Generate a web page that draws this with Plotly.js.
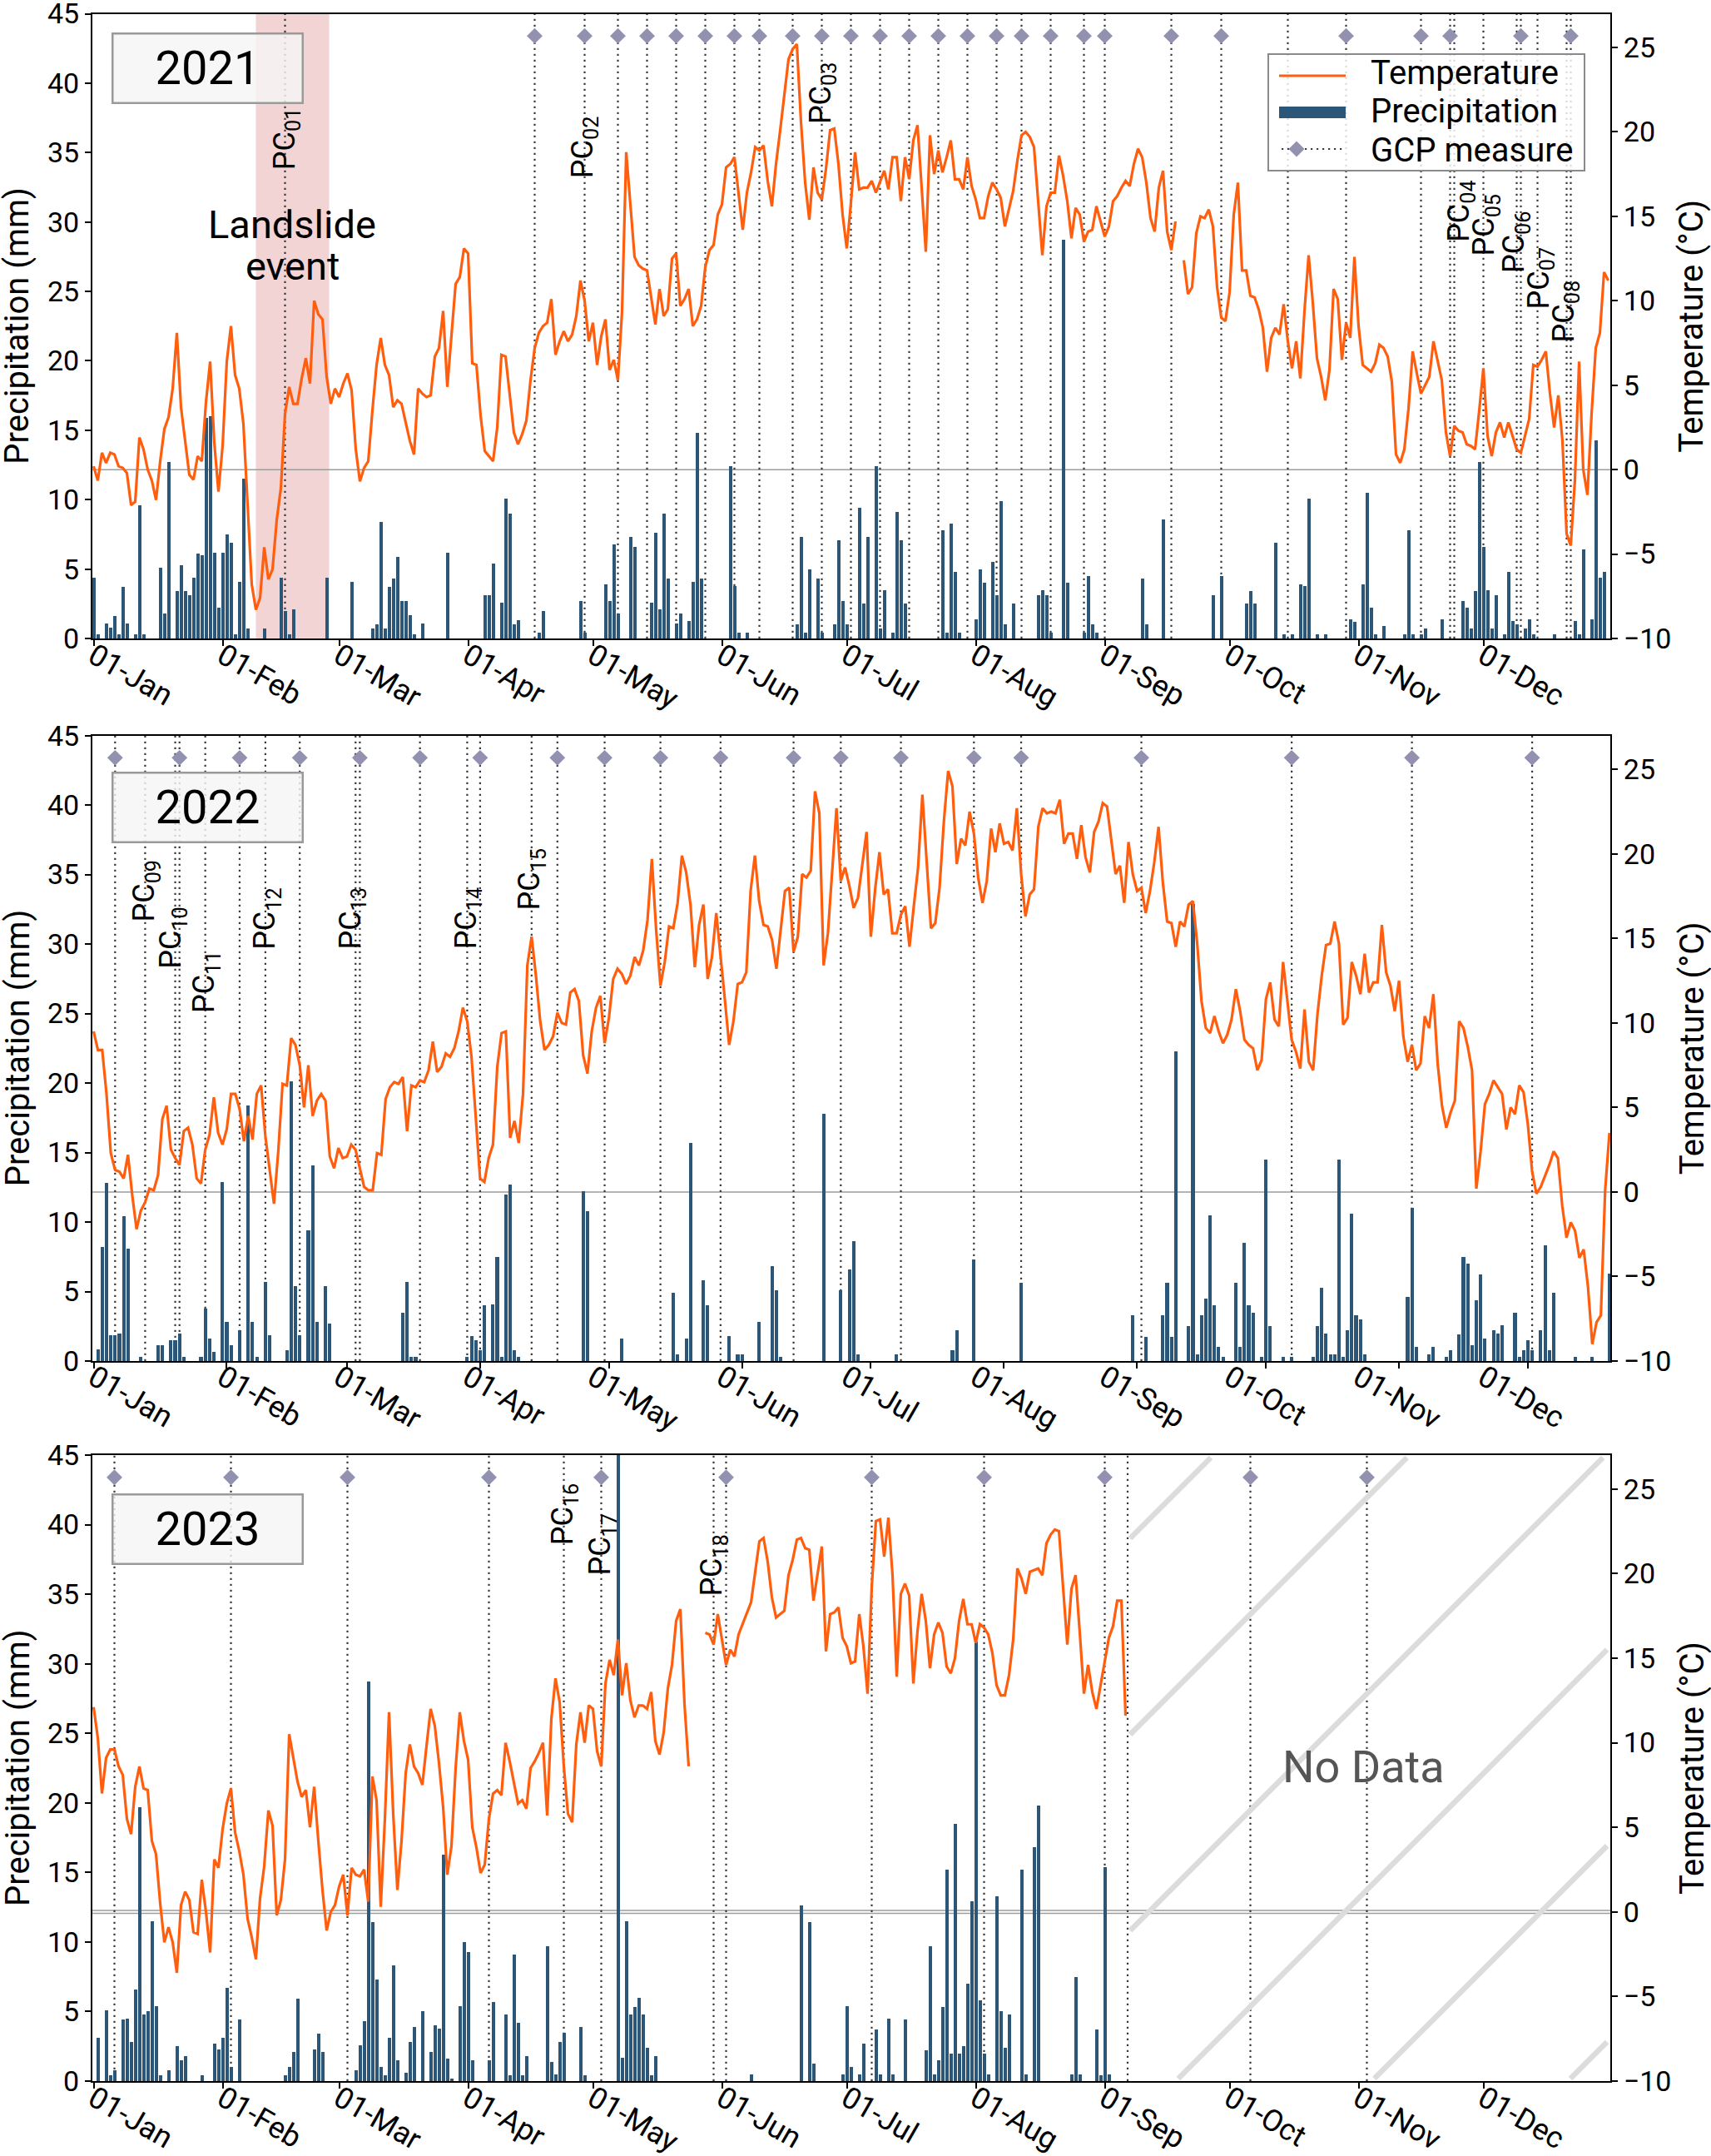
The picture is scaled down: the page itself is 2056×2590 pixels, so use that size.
<!DOCTYPE html>
<html><head><meta charset="utf-8">
<script src="https://cdn.plot.ly/plotly-3.0.1.min.js"></script>
<style>html,body{margin:0;padding:0;background:#fff}</style>
</head><body>
<div id="chart" style="width:2056px;height:2590px"></div>
<script>
// ---------------- DATA ----------------
// day index = days since 1 January of the year (0 = 01-Jan)
const years = [2021, 2022, 2023];

// Daily mean temperature (°C), starting 01-Jan; null = missing
const temp2021 = [
0.2,-0.65,1.0,0.4,1.0,0.9,0.2,0.1,-0.2,-2.1,
-1.9,1.9,1.2,0.0,-0.65,-1.8,0.5,2.4,3.1,4.8,
8.1,3.7,1.7,-0.3,-0.6,0.8,0.5,4.0,6.4,1.6,
-1.3,1.4,6.4,8.5,5.6,4.8,2.7,-2.0,-6.8,-8.3,
-7.6,-4.6,-6.5,-5.9,-3.0,-1.1,3.3,4.9,3.9,3.9,
5.4,6.6,5.1,10.0,9.2,8.9,5.5,3.9,4.8,4.3,
5.1,5.7,4.7,1.2,-0.7,0.1,0.5,3.5,6.2,7.8,
6.2,5.6,3.7,4.1,3.9,2.8,1.7,0.9,4.8,4.5,
4.3,4.4,6.7,7.2,9.4,4.9,8.1,11.0,11.4,13.1,
12.8,6.3,6.2,3.2,1.1,0.8,0.5,2.5,6.8,6.7,
4.5,2.2,1.5,2.1,2.9,5.3,7.2,8.1,8.5,8.7,
10.1,6.8,7.6,8.2,7.6,8.0,9.1,11.2,10.0,7.6,
8.7,6.2,7.9,8.9,5.9,6.5,5.3,9.4,18.8,15.9,
12.6,12.1,11.9,11.8,10.2,8.6,10.7,9.1,9.5,12.5,
12.8,9.7,10.1,10.7,8.5,8.9,9.7,12.0,13.0,13.3,
15.1,15.7,17.9,18.1,18.5,16.4,14.2,16.4,17.6,19.1,
18.9,19.2,17.1,15.6,18.1,20.1,22.1,24.3,24.9,25.2,
20.6,17.0,14.8,17.9,16.4,16.0,17.8,20.1,20.2,18.1,
15.1,13.1,15.8,18.8,16.6,16.7,16.7,17.1,16.4,17.0,
17.7,16.6,18.5,18.5,15.9,18.5,17.2,19.5,20.4,16.7,
12.9,19.8,17.5,18.9,17.6,18.5,19.5,17.2,17.2,16.6,
18.5,16.8,16.0,14.9,14.9,16.2,17.0,16.6,16.1,14.4,
15.4,16.5,18.3,19.8,20.0,19.7,19.1,16.1,12.7,15.6,
16.4,16.4,18.6,17.4,15.9,13.7,15.5,15.1,13.5,14.1,
14.2,15.6,14.7,13.8,14.4,15.9,16.2,16.7,17.1,16.8,
18.1,19.0,18.5,17.0,14.9,14.1,16.7,17.7,14.1,13.0,
14.7,null,12.4,10.4,10.8,14.0,15.0,14.9,15.4,14.4,
10.8,9.0,8.8,10.5,15.1,17.0,11.8,11.8,10.3,10.2,
9.5,8.4,5.8,7.8,8.4,8.0,9.8,7.6,6.0,7.6,
5.4,9.4,12.7,9.9,6.6,5.5,4.1,5.9,10.7,10.1,
6.5,8.7,7.8,12.6,8.5,6.2,6.0,5.8,6.3,7.4,
7.2,6.7,5.2,0.9,0.4,1.2,3.6,7.0,5.7,4.5,
5.0,5.5,7.6,6.4,5.3,2.2,0.8,2.6,2.3,2.2,
1.5,1.4,1.2,3.5,6.0,2.0,0.8,2.2,2.8,1.9,
2.8,2.0,1.2,1.0,2.0,3.0,6.2,6.1,6.5,7.0,
4.5,2.5,4.4,1.7,-3.8,-4.5,-0.6,6.4,0.0,-1.5,
3.3,7.2,8.1,11.7,11.2];

const temp2022 = [
9.5,8.4,8.4,5.8,2.3,1.3,1.2,0.8,2.2,-0.2,
-2.2,-1.1,-0.6,0.2,0.1,1.0,4.3,5.1,2.5,2.0,
1.6,3.6,3.8,2.8,0.8,0.5,2.5,3.4,5.6,3.5,
2.8,3.7,5.8,5.8,4.9,3.0,4.5,3.1,5.8,6.3,
3.3,1.2,-0.7,2.4,6.4,6.3,9.1,8.7,7.5,5.0,
7.5,4.5,5.4,5.8,5.4,2.1,1.4,2.6,2.0,2.1,
2.8,2.5,1.4,0.3,0.1,0.1,2.3,2.2,5.5,6.2,
6.5,6.4,6.8,3.6,6.3,6.2,6.6,6.5,7.2,8.9,
7.1,7.4,8.2,8.0,8.5,9.5,10.9,10.1,8.0,4.5,
0.8,0.6,2.0,2.8,7.4,9.4,9.5,3.2,4.2,2.9,
5.8,13.4,15.1,12.8,10.1,8.4,8.7,9.2,10.6,10.0,
9.9,11.8,12.0,11.3,8.1,7.0,9.5,10.9,11.6,8.8,
10.3,12.6,13.2,12.9,12.3,12.8,13.9,13.4,14.3,16.1,
19.7,15.5,12.2,13.6,15.7,15.6,17.1,19.9,18.9,17.0,
13.3,15.8,17.0,12.6,13.9,16.5,14.1,11.4,8.7,10.1,
12.3,12.4,13.0,17.8,19.9,17.2,15.8,15.7,14.9,13.2,
15.5,17.8,18.0,14.2,15.1,18.8,18.6,19.0,23.7,22.4,
13.4,15.3,19.0,22.7,18.4,19.2,18.1,16.8,17.4,19.4,
21.3,15.1,17.9,20.1,17.6,17.9,15.3,15.3,16.4,16.9,
14.5,16.9,19.2,23.5,19.6,15.6,15.9,18.0,21.9,24.9,
24.0,19.4,20.9,20.5,22.5,21.2,18.6,17.1,18.4,21.5,
20.1,21.8,20.6,20.7,20.2,22.7,18.8,16.3,17.6,17.9,
21.6,22.7,22.4,22.5,22.4,23.2,20.6,21.2,21.2,19.7,
21.7,19.8,18.9,21.3,21.9,23.0,22.8,20.9,18.8,19.3,
17.1,20.7,18.8,17.8,18.0,16.5,17.8,19.5,21.6,18.3,
16.0,15.9,14.5,16.0,15.7,17.0,17.2,14.7,11.3,9.7,
9.4,10.4,9.5,8.8,9.3,10.2,12.0,10.7,9.0,8.7,
8.5,7.2,7.8,11.4,12.4,10.2,9.8,13.6,11.4,9.0,
8.3,7.3,10.8,7.7,7.2,10.5,12.8,14.6,14.7,16.0,
14.7,9.9,10.3,13.6,12.8,11.7,14.1,11.8,12.4,12.4,
15.8,13.0,12.2,10.7,12.5,9.2,7.7,8.7,7.2,7.6,
10.4,9.7,11.7,7.6,5.1,3.8,4.7,5.4,10.1,9.7,
8.6,7.2,0.2,2.4,5.2,5.8,6.6,6.2,5.8,3.7,
5.0,4.6,6.3,5.9,4.0,1.2,-0.1,0.3,0.9,1.6,
2.4,2.0,-0.8,-2.7,-1.8,-2.3,-3.9,-3.4,-5.6,-9.0,
-7.7,-7.3,0.1,3.5];

const temp2023 = [
12.1,10.3,7.0,9.1,9.6,9.6,8.6,8.1,5.5,4.6,
7.4,8.6,7.3,7.2,4.2,3.4,0.5,-1.8,-0.9,-1.8,
-3.6,0.4,1.2,0.7,-1.2,-1.3,1.9,0.0,-2.4,3.1,
2.6,4.9,6.4,7.3,4.7,3.6,2.2,-0.4,-1.5,-2.8,
0.8,2.7,6.0,5.1,-0.2,0.7,3.1,10.5,9.1,7.7,
6.8,7.2,5.0,7.4,4.2,1.3,-1.1,0.0,0.4,1.5,
2.2,-0.2,2.6,2.2,2.1,2.5,0.6,8.0,6.6,0.3,
5.5,11.8,5.8,1.3,4.2,8.2,9.9,8.6,8.2,7.5,
9.8,12.0,11.0,8.8,6.2,2.2,3.9,8.5,11.8,10.1,
9.0,5.0,3.8,2.3,2.8,5.5,7.0,7.2,6.9,10.0,
8.9,7.7,6.4,6.6,6.1,8.5,8.9,9.4,10.0,5.7,
11.4,13.8,12.4,8.6,5.8,5.3,9.9,11.8,10.0,12.2,
12.0,9.5,8.6,13.5,14.9,14.0,16.1,12.8,14.7,12.5,
11.5,12.2,12.2,12.0,13.0,10.1,9.3,10.6,13.2,14.6,
17.2,17.9,12.3,8.6,null,null,null,16.5,16.4,15.8,
17.6,16.1,14.6,15.5,15.1,16.4,17.0,17.7,18.3,20.1,
21.9,22.1,20.7,18.6,17.4,17.6,17.8,19.9,20.8,22.0,
22.1,21.5,21.4,18.4,20.0,21.6,15.4,17.6,17.7,18.0,
16.2,15.7,14.7,14.8,17.6,15.7,12.9,19.2,23.1,23.2,
21.0,23.3,19.9,13.9,18.8,19.4,18.7,13.5,16.6,18.8,
17.2,14.4,16.4,17.1,16.5,14.5,14.1,15.0,17.2,18.5,
17.0,17.0,15.9,17.0,16.8,16.4,15.3,13.4,12.8,12.8,
14.0,16.1,20.3,19.7,18.8,20.1,20.2,20.3,19.9,21.8,
22.3,22.6,22.5,19.2,15.8,19.1,19.9,16.5,12.9,14.6,
13.0,12.0,13.4,14.9,16.2,16.9,18.4,18.4,11.6];

// Daily precipitation (mm): day index and amount
const precipDay2021 = [0,1,3,4,5,6,7,8,10,11,12,16,17,18,20,21,22,23,24,25,26,27,28,29,30,31,32,33,34,35,36,37,41,45,46,47,48,56,62,67,68,69,70,71,72,73,74,75,76,77,79,85,94,95,96,98,99,100,101,102,107,108,117,118,123,124,125,126,129,130,134,135,136,137,138,140,141,143,144,145,146,153,154,155,157,169,170,171,172,174,175,178,179,180,181,184,185,186,188,189,190,192,193,194,195,204,205,206,207,208,212,213,214,216,217,218,219,221,227,228,229,230,233,234,238,239,240,241,252,253,257,269,271,277,278,279,284,286,288,290,291,292,294,296,302,303,305,306,307,308,310,315,316,317,319,320,324,329,330,331,332,333,334,335,336,337,339,340,341,342,344,345,346,351,356,357,358,360,361,362,363];
const precipMm2021 = [4.4,0.3,1.1,0.8,1.6,0.3,3.7,1.1,0.3,9.6,0.3,5.1,1.8,12.7,3.4,5.3,3.4,3.1,4.4,6.1,6.0,15.9,16.0,6.2,2.2,6.2,7.5,6.9,0.3,4.1,11.5,0.7,0.7,4.4,2.0,0.3,2.1,4.4,4.1,0.7,1.0,8.4,0.7,3.7,4.3,5.9,2.7,2.7,1.7,0.3,1.1,6.2,3.1,3.1,5.4,2.6,10.1,9.0,1.0,1.3,0.4,2.0,2.7,0.4,3.9,2.7,6.8,1.8,7.3,6.6,2.6,7.6,2.1,9.0,4.3,1.1,1.8,1.25,4.1,14.8,4.3,12.4,3.8,0.4,0.4,1.0,7.3,0.4,5.0,4.3,0.4,1.0,7.1,2.7,1.0,9.4,2.5,7.3,12.4,0.7,3.5,0.4,9.1,7.1,2.5,7.8,0.4,8.3,4.8,0.4,1.4,5.0,4.0,5.5,3.1,9.9,1.0,2.5,3.1,3.5,3.1,0.4,28.7,4.0,0.4,4.5,1.0,0.4,4.3,1.0,8.6,3.1,4.5,2.5,3.4,2.5,6.9,0.3,0.3,3.9,3.8,10.1,0.3,0.3,1.4,1.2,3.9,10.5,2.2,0.3,0.9,0.3,7.8,0.3,0.3,0.7,1.4,2.7,2.2,0.7,3.4,12.7,6.6,3.5,0.7,3.1,0.3,4.8,1.25,1.0,0.7,1.4,0.3,0.3,1.25,0.3,6.4,1.4,14.3,4.4,4.8];

const precipDay2022 = [1,2,3,4,5,6,7,8,11,15,16,18,19,20,21,25,26,27,28,30,31,32,34,36,37,38,40,41,45,46,47,48,50,51,52,54,55,72,73,74,75,87,88,89,90,91,93,94,95,96,97,98,99,114,115,123,135,136,138,139,142,143,148,150,151,155,158,159,160,170,174,176,177,178,187,200,201,205,216,242,245,249,250,251,252,255,256,257,258,259,260,261,262,263,266,267,268,269,270,272,273,274,277,279,284,285,286,287,288,289,290,291,292,293,294,295,296,306,307,308,311,312,315,316,318,319,320,321,322,323,324,326,327,328,331,332,333,334,335,337,338,339,340,345,349,353];
const precipMm2022 = [0.85,8.2,12.8,1.85,1.85,2.0,10.4,8.1,0.3,1.15,1.15,1.5,1.5,2.0,0.3,0.3,3.8,1.6,0.65,12.9,2.8,1.15,2.2,18.4,2.8,0.3,5.7,1.85,0.75,20.1,5.4,1.85,9.4,14.1,2.8,5.4,2.7,3.5,5.7,0.3,0.3,0.3,1.8,1.5,0.75,4.0,4.1,7.5,0.3,12.0,12.7,0.75,0.3,12.2,10.8,1.6,4.9,0.5,1.6,15.7,5.8,4.0,1.8,0.5,0.5,2.8,6.8,5.1,0.3,17.8,5.1,6.6,8.6,0.5,0.5,0.75,2.2,7.3,5.6,3.3,1.75,3.3,5.6,1.75,22.3,2.5,32.9,0.5,3.3,4.5,10.5,4.0,1.0,0.3,5.6,1.0,8.5,4.0,3.5,0.3,14.5,2.5,0.3,0.3,0.3,2.5,5.3,2.0,0.5,0.5,14.5,0.3,2.2,10.6,3.3,3.0,0.5,4.6,11.0,1.0,0.5,1.0,0.3,0.75,1.9,7.5,7.0,1.15,4.4,6.2,1.6,2.2,2.0,2.6,3.45,0.3,0.75,1.5,0.75,2.2,8.3,0.75,4.9,0.3,0.3,6.3];

const precipDay2023 = [1,3,4,5,7,8,9,10,11,12,13,14,15,16,18,20,21,22,26,29,30,31,32,33,35,46,47,48,49,53,54,55,63,64,65,66,67,68,69,70,71,72,73,75,76,77,79,81,82,83,84,85,86,88,89,90,91,95,96,99,100,101,102,103,104,109,110,111,112,113,117,118,126,127,128,129,130,131,132,133,134,135,158,170,172,173,180,181,182,184,185,188,189,191,192,195,200,201,202,203,204,205,206,207,208,209,210,211,212,213,214,215,217,218,219,220,223,224,226,227,235,236,237,241,242,243,244];
const precipMm2023 = [3.1,5.1,0.4,0.75,4.4,4.5,2.8,6.6,19.7,4.8,5.0,11.5,5.4,0.4,0.75,2.5,1.5,1.8,0.4,2.7,2.3,3.1,6.7,1.0,4.4,0.4,1.0,2.1,5.9,2.3,3.4,2.1,0.75,2.6,4.3,28.7,11.4,7.3,1.0,0.4,3.1,8.3,1.5,0.6,2.8,3.9,5.0,2.1,4.0,3.8,16.3,1.6,0.2,5.4,10.0,9.3,1.5,1.5,5.7,4.8,0.4,9.1,4.2,0.4,1.8,9.7,1.4,0.5,2.8,3.5,3.9,0.4,48,1.7,11.5,4.8,5.3,6.0,4.8,2.4,0.4,1.8,0.5,12.6,11.4,1.25,0.5,5.4,1.0,0.5,2.7,3.7,0.5,4.5,0.5,4.4,2.2,9.7,0.5,1.5,5.3,15.2,2.0,18.5,2.0,2.5,7.0,12.9,31.6,5.8,2.0,0.5,13.3,5.0,2.4,4.8,15.2,0.5,16.8,19.8,0.5,7.5,0.5,3.7,0.4,15.4,0.5];

// GCP measurement days (diamond + dotted line)
const gcpDay2021 = [106,118,126,133,140,147,154,160,168,175,182,189,196,203,210,217,223,230,238,243,259,271,301,319,326,343,355];
const gcpDay2022 = [5,20,34,48,62,76,90,108,119,132,146,163,174,188,205,216,244,279,307,335];
const gcpDay2023 = [5,33,61,95,122,152,187,214,243,278,306];
// other dotted marker lines (no diamond)
const lineDay2021 = [46,287,327,334,342,347,354];
const lineDay2022 = [12,19,26,40,61,87,102];
const lineDay2023 = [113,149,248.5];

// PC labels: name (subscript), day
const pcName2021 = ['01','02','03','04','05','06','07','08'];
const pcDay2021  = [46.4,118,175.2,328.6,334.6,341.7,347.7,353.7];
const pcName2022 = ['09','10','11','12','13','14','15'];
const pcDay2022  = [12.2,18.5,26.2,40.3,60.2,87.1,102];
const pcName2023 = ['16','17','18'];
const pcDay2023  = [113.1,122.2,149];

// landslide event period (2021) and no-data period start (2023), day index
const landslideDays2021 = [39.0, 56.6];
const noDataStart2023 = 248.5;

// ---------------- LAYOUT / STYLE ----------------
const W = 2056, H = 2590, ML = 111, MR = 121, MT = 16, MB = 90;
const PW = W - ML - MR, PH = H - MT - MB;
const FONT = 'Roboto, "Open Sans", Arial, sans-serif';
const BAR_COLOR = '#2c5677', TEMP_COLOR = '#ff5e0e', GCP_COLOR = '#9292b0', DOT_COLOR = '#3a3a3a';
const GCP_LEVEL = 43.4;          // precipitation-axis height of the diamonds
const DAY_MS = 86400000;

// pixel geometry of each panel [top, bottom], x range in day index
const panelPx = [[16.5, 767], [883.6, 1635], [1748, 2500]];
const xRangeDays = [[-0.3, 364.5], [-0.29, 353.2], [-0.3, 364.5]];
// the 2022 panel's month labels sit where the full-year panels put them
const labelRangeDays = [-0.3, 364.5];
// PC label bottom level (precipitation units)
const pcLevel = [[33.6,33.0,36.9,28.4,27.4,26.2,23.6,21.2],[31.5,28.1,24.9,29.5,29.5,29.5,32.3],[38.4,36.2,34.7]];
const yearBoxPx = [[249.75, 82], [249.75, 969.5], [249.75, 1836.5]];

function dayDate(year, d) {
  return new Date(Date.UTC(year, 0, 1) + d * DAY_MS).toISOString().replace('T', ' ').slice(0, 19);
}
const px2x = px => (px - ML) / PW;
const py2y = py => (H - MB - py) / PH;

const panels = [
  {year: 2021, temp: temp2021, pd: precipDay2021, pm: precipMm2021, gcp: gcpDay2021, lines: lineDay2021, pcN: pcName2021, pcD: pcDay2021},
  {year: 2022, temp: temp2022, pd: precipDay2022, pm: precipMm2022, gcp: gcpDay2022, lines: lineDay2022, pcN: pcName2022, pcD: pcDay2022},
  {year: 2023, temp: temp2023, pd: precipDay2023, pm: precipMm2023, gcp: gcpDay2023, lines: lineDay2023, pcN: pcName2023, pcD: pcDay2023}
];

const traces = [];
const shapes = [];
const annotations = [];
const layout = {
  width: W, height: H,
  margin: {l: ML, r: MR, t: MT, b: MB},
  paper_bgcolor: '#ffffff', plot_bgcolor: '#ffffff',
  showlegend: false,
  font: {family: FONT, color: '#000', size: 34},
  bargap: 0
};

const axisStyle = {
  showline: true, linecolor: '#000', linewidth: 2,
  ticks: 'outside', ticklen: 7, tickwidth: 2, tickcolor: '#000',
  showgrid: false, zeroline: false, ticklabeloverflow: 'allow',
  tickfont: {family: FONT, size: 34, color: '#000'}
};
const xTickFont = {family: FONT, size: 36, color: '#000'};
const X_LABEL_STANDOFF = -23;

panels.forEach((p, i) => {
  const xName = i === 0 ? 'xaxis' : 'xaxis' + (i + 1);
  const xRef = i === 0 ? 'x' : 'x' + (i + 1);
  const ypNum = 2 * i + 1, ytNum = 2 * i + 2;
  const ypName = ypNum === 1 ? 'yaxis' : 'yaxis' + ypNum;
  const ypRef = ypNum === 1 ? 'y' : 'y' + ypNum;
  const ytName = 'yaxis' + ytNum, ytRef = 'y' + ytNum;
  const [top, bot] = panelPx[i];
  const dom = [Math.max(0, (H - MB - bot) / PH), Math.min(1, (H - MB - top) / PH)];
  const Y = p.year;

  layout[xName] = Object.assign({}, axisStyle, {
    type: 'date', domain: [0, 1], anchor: ypRef,
    range: [dayDate(Y, xRangeDays[i][0]), dayDate(Y, xRangeDays[i][1])],
    tick0: dayDate(Y, 0), dtick: 'M1', tickformat: '%d-%b', tickangle: 30, mirror: true,
    ticklabelstandoff: X_LABEL_STANDOFF, tickfont: xTickFont
  });
  if (Y === 2022) {
    // tick marks on the true dates, labels placed like the full-year panels
    layout[xName].showticklabels = false;
    layout.xaxis4 = Object.assign({}, axisStyle, {
      type: 'date', overlaying: xRef, anchor: ypRef, side: 'bottom',
      range: [dayDate(Y, labelRangeDays[0]), dayDate(Y, labelRangeDays[1])],
      tick0: dayDate(Y, 0), dtick: 'M1', tickformat: '%d-%b', tickangle: 30,
      showline: false, tickcolor: 'rgba(0,0,0,0)', ticklabelstandoff: X_LABEL_STANDOFF, tickfont: xTickFont
    });
    // placeholder trace so the label axis gets drawn
    traces.push({type: 'scatter', mode: 'markers', x: [dayDate(Y, 0)], y: [null],
      xaxis: 'x4', yaxis: ypRef, hoverinfo: 'skip', marker: {opacity: 0}});
  }
  layout[ypName] = Object.assign({}, axisStyle, {
    domain: dom, anchor: xRef, range: [0, 45], tick0: 0, dtick: 5, mirror: true, side: 'left'
  });
  layout[ytName] = Object.assign({}, axisStyle, {
    overlaying: ypRef, anchor: xRef, side: 'right', range: [-10, 27], tick0: -10, dtick: 5
  });

  // precipitation bars
  traces.push({
    type: 'bar', x: p.pd.map(d => dayDate(Y, d)), y: p.pm, xaxis: xRef, yaxis: ypRef,
    width: 0.8 * DAY_MS, marker: {color: BAR_COLOR, line: {width: 0}}, hoverinfo: 'skip'
  });
  // GCP diamonds
  traces.push({
    type: 'scatter', mode: 'markers', x: p.gcp.map(d => dayDate(Y, d)), y: p.gcp.map(() => GCP_LEVEL),
    xaxis: xRef, yaxis: ypRef, marker: {symbol: 'diamond', size: 14.5, color: GCP_COLOR, line: {width: 0}},
    cliponaxis: false, hoverinfo: 'skip'
  });
  // temperature line
  traces.push({
    type: 'scatter', mode: 'lines', x: p.temp.map((_, k) => dayDate(Y, k)), y: p.temp,
    xaxis: xRef, yaxis: ytRef, connectgaps: false,
    line: {color: TEMP_COLOR, width: 3.2}, hoverinfo: 'skip'
  });

  // landslide shading (2021)
  if (Y === 2021) {
    shapes.push({type: 'rect', xref: xRef, yref: ypRef + ' domain',
      x0: dayDate(Y, landslideDays2021[0]), x1: dayDate(Y, landslideDays2021[1]), y0: 0, y1: 1,
      fillcolor: '#f2d4d4', line: {width: 0}, layer: 'below'});
  }
  // zero-degree line(s)
  const zeroLevels = Y === 2023 ? [0.09, -0.09] : [0];
  zeroLevels.forEach(z => shapes.push({type: 'line', xref: xRef + ' domain', yref: ytRef,
    x0: 0, x1: 1, y0: z, y1: z, line: {color: '#9c9c9c', width: 1.5}, layer: 'below'}));

  // dotted lines
  p.gcp.concat(p.lines).forEach(d => shapes.push({
    type: 'line', xref: xRef, yref: ypRef + ' domain', x0: dayDate(Y, d), x1: dayDate(Y, d), y0: 0, y1: 1,
    line: {color: DOT_COLOR, width: 2.2, dash: '2.2px,4.8px'}, layer: 'below'
  }));

  // PC labels
  p.pcN.forEach((n, k) => annotations.push({
    xref: xRef, yref: ypRef, x: dayDate(Y, p.pcD[k]), y: pcLevel[i][k],
    text: 'PC<sub>' + n + '</sub>', textangle: -90, showarrow: false,
    xanchor: 'center', yanchor: 'bottom', font: {family: FONT, size: 36, color: '#000'}
  }));

  // year box
  annotations.push({
    xref: 'paper', yref: 'paper', x: px2x(yearBoxPx[i][0]), y: py2y(yearBoxPx[i][1]),
    xanchor: 'center', yanchor: 'middle', text: String(Y), showarrow: false,
    font: {family: FONT, size: 56, color: '#000'},
    width: 226, height: 81, bgcolor: 'rgba(245,245,245,0.82)', bordercolor: '#9a9a9a', borderwidth: 2.5, borderpad: 0
  });

  // axis titles
  const midY = py2y((top + bot) / 2);
  annotations.push({xref: 'paper', yref: 'paper', x: px2x(21), y: midY, xanchor: 'center', yanchor: 'middle',
    text: 'Precipitation (mm)', textangle: -90, showarrow: false, font: {family: FONT, size: 40, color: '#000'}});
  annotations.push({xref: 'paper', yref: 'paper', x: px2x(2033), y: midY, xanchor: 'center', yanchor: 'middle',
    text: 'Temperature (°C)', textangle: -90, showarrow: false, font: {family: FONT, size: 40, color: '#000'}});

  if (Y === 2021) {
    annotations.push({xref: xRef, yref: ypRef, x: dayDate(Y, 47.7), y: 29.86, text: 'Landslide', height: 44,
      showarrow: false, xanchor: 'center', yanchor: 'middle', font: {family: FONT, size: 47, color: '#000'}});
    annotations.push({xref: xRef, yref: ypRef, x: dayDate(Y, 47.7), y: 26.88, text: 'event', height: 44,
      showarrow: false, xanchor: 'center', yanchor: 'middle', font: {family: FONT, size: 47, color: '#000'}});
  }

  if (Y === 2023) {
    // hatched "no data" area: 45° lines, spacing in px
    const xr = xRangeDays[i];
    const dayToPx = d => ML + (d - xr[0]) / (xr[1] - xr[0]) * PW;
    const pxToDay = px => xr[0] + (px - ML) / PW * (xr[1] - xr[0]);
    const XA = dayToPx(noDataStart2023) + 3, XB = W - MR - 4, YA = top + 3, YB = bot - 3;
    const HATCH_FIRST = 3206, HATCH_STEP = 235.6;
    for (let c = HATCH_FIRST; c < XB + YB; c += HATCH_STEP) {
      const s = Math.max(XA, c - YB), e = Math.min(XB, c - YA);
      if (s >= e) continue;
      shapes.push({type: 'line', xref: xRef, yref: ypRef + ' domain',
        x0: dayDate(Y, pxToDay(s)), y0: (bot - (c - s)) / (bot - top),
        x1: dayDate(Y, pxToDay(e)), y1: (bot - (c - e)) / (bot - top),
        line: {color: '#dcdcdc', width: 6.5}, layer: 'below'});
    }
    annotations.push({xref: xRef, yref: ypRef, x: dayDate(Y, 305.1), y: 22.6, text: 'No Data',
      showarrow: false, xanchor: 'center', yanchor: 'middle', font: {family: FONT, size: 54, color: '#555555'}});
  }
});

// ---- legend (panel 1, upper right), drawn with shapes + text ----
shapes.push({type: 'rect', xref: 'paper', yref: 'paper', x0: px2x(1524), x1: px2x(1904), y0: py2y(205), y1: py2y(65),
  fillcolor: 'rgba(255,255,255,0.82)', line: {color: '#8a8a8a', width: 2}, layer: 'above'});
shapes.push({type: 'line', xref: 'paper', yref: 'paper', x0: px2x(1537), x1: px2x(1617), y0: py2y(91), y1: py2y(91),
  line: {color: TEMP_COLOR, width: 3}, layer: 'above'});
shapes.push({type: 'rect', xref: 'paper', yref: 'paper', x0: px2x(1537), x1: px2x(1617), y0: py2y(142), y1: py2y(128),
  fillcolor: BAR_COLOR, line: {width: 0}, layer: 'above'});
shapes.push({type: 'line', xref: 'paper', yref: 'paper', x0: px2x(1540), x1: px2x(1617), y0: py2y(179), y1: py2y(179),
  line: {color: DOT_COLOR, width: 2.2, dash: '2.2px,4.8px'}, layer: 'above'});
shapes.push({type: 'path', xref: 'paper', yref: 'paper', xsizemode: 'pixel', ysizemode: 'pixel',
  xanchor: px2x(1558), yanchor: py2y(179), path: 'M-9.5,0 L0,9.5 L9.5,0 L0,-9.5 Z',
  fillcolor: GCP_COLOR, line: {width: 0}, layer: 'above'});
[['Temperature', 87.5], ['Precipitation', 133.3], ['GCP measure', 180.8]].forEach(([t, py]) =>
  annotations.push({xref: 'paper', yref: 'paper', x: px2x(1645), y: py2y(py), xanchor: 'left', yanchor: 'middle',
    text: t, showarrow: false, font: {family: FONT, size: 40, color: '#000'}}));

layout.shapes = shapes;
layout.annotations = annotations;

Plotly.newPlot('chart', traces, layout, {displayModeBar: false, staticPlot: true});
</script>
</body></html>
